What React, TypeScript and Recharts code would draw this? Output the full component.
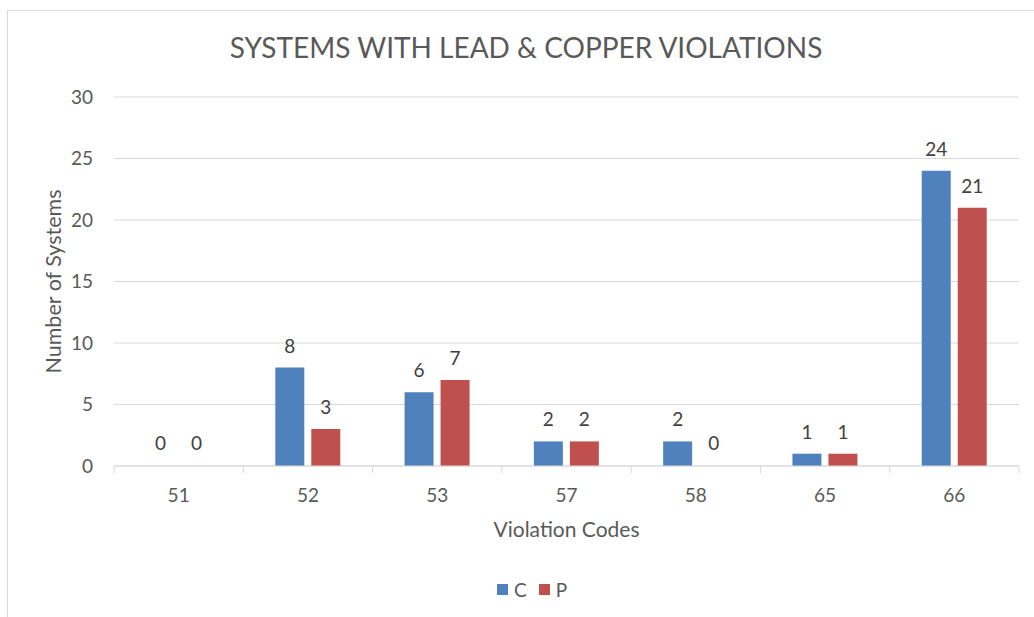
import React from 'react';
import { BarChart, Bar, XAxis, YAxis, CartesianGrid, LabelList, Label, Rectangle } from 'recharts';

const categories = ['51', '52', '53', '57', '58', '65', '66'];
const seriesNames = ['C', 'P'];
const seriesC = [0, 8, 6, 2, 2, 1, 24];
const seriesP = [0, 3, 7, 2, 0, 1, 21];
const yTicks = [0, 5, 10, 15, 20, 25, 30];
const colors = ['#4F81BD', '#C0504D'];

const data = categories.map((code, i) => ({ code, C: seriesC[i], P: seriesP[i] }));

const FONT = 'Lato, "Open Sans", sans-serif';
const TEXT = '#595959';

const XTick = (props: any) => {
  const { x, y, payload, index, width } = props;
  const half = (width || 905) / categories.length / 2;
  return (
    <g>
      <line x1={x - half} x2={x - half} y1={y} y2={y + 7} stroke="#d9d9d9" />
      {index === categories.length - 1 && (
        <line x1={x + half} x2={x + half} y1={y} y2={y + 7} stroke="#d9d9d9" />
      )}
      <text x={x} y={y + 28} textAnchor="middle" dominantBaseline="central" fill={TEXT} fontSize={19} fontFamily={FONT}>
        {payload.value}
      </text>
    </g>
  );
};

const BarShape = (props: any) => (props.height < 1.5 ? <g /> : <Rectangle {...props} />);

export default function App() {
  return (
    <div style={{ position: 'fixed', left: 0, top: 0, width: 1034, height: 617, overflow: 'hidden', background: '#fff' }}>
      <div style={{ position: 'absolute', left: 7, top: 10, width: 1200, height: 800, border: '1px solid #d9d9d9' }} />
      <div style={{ position: 'absolute', left: 0, width: 1052, top: 30, textAlign: 'center', fontFamily: FONT, fontSize: 28, color: TEXT }}>
        SYSTEMS WITH LEAD &amp; COPPER VIOLATIONS
      </div>
      <div style={{ position: 'absolute', left: 0, top: 0 }}>
        <BarChart width={1034} height={617} data={data} margin={{ top: 97, right: 15, left: 0, bottom: 111 }} barSize={29} barGap={7}>
          <CartesianGrid vertical={false} stroke="#d9d9d9" />
          <XAxis dataKey="code" height={40} axisLine={{ stroke: '#d9d9d9' }} tickLine={false} tickSize={0} tickMargin={0} tick={<XTick />} interval={0}>
            <Label
              content={({ viewBox }: any) => (
                <text x={viewBox.x + viewBox.width / 2} y={viewBox.y + 62} textAnchor="middle" dominantBaseline="central" fill={TEXT} fontSize={21} fontFamily={FONT}>
                  Violation Codes
                </text>
              )}
            />
          </XAxis>
          <YAxis domain={[0, 30]} ticks={yTicks} width={114} axisLine={false} tickLine={false} tickSize={0} tickMargin={21} tick={{ fill: TEXT, fontSize: 19, fontFamily: FONT }}>
            <Label
              content={({ viewBox }: any) => {
                const cy = viewBox.y + viewBox.height / 2;
                return (
                  <text x={53} y={cy} transform={`rotate(-90 53 ${cy})`} textAnchor="middle" dominantBaseline="central" fill={TEXT} fontSize={21.5} fontFamily={FONT}>
                    Number of Systems
                  </text>
                );
              }}
            />
          </YAxis>
          <Bar dataKey="C" fill={colors[0]} isAnimationActive={false} minPointSize={1} shape={<BarShape />}>
            <LabelList dataKey="C" position="top" offset={15} fill="#404040" fontSize={19} fontFamily={FONT} />
          </Bar>
          <Bar dataKey="P" fill={colors[1]} isAnimationActive={false} minPointSize={1} shape={<BarShape />}>
            <LabelList dataKey="P" position="top" offset={15} fill="#404040" fontSize={19} fontFamily={FONT} />
          </Bar>
        </BarChart>
      </div>
      <div style={{ position: 'absolute', top: 578, left: 497, display: 'flex', alignItems: 'center', fontFamily: FONT, fontSize: 19, color: TEXT }}>
        {seriesNames.map((name, i) => (
          <div key={name} style={{ display: 'flex', alignItems: 'center', marginRight: 12 }}>
            <span style={{ display: 'inline-block', width: 11, height: 11, background: colors[i], marginRight: 6 }} />
            <span>{name}</span>
          </div>
        ))}
      </div>
    </div>
  );
}
